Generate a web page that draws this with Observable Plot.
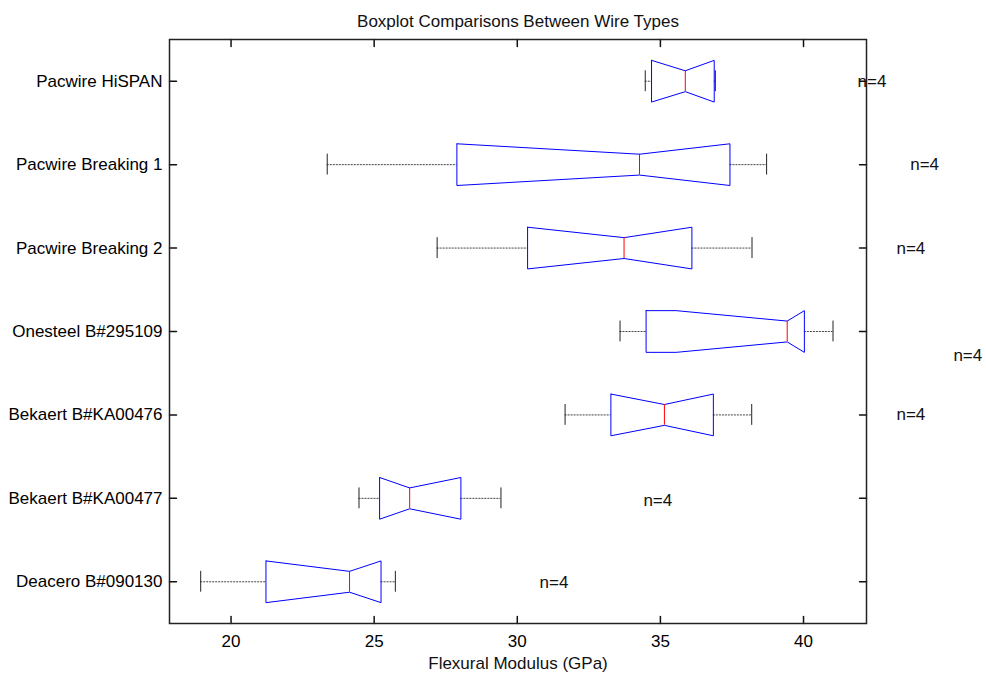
<!DOCTYPE html>
<html>
<head>
<meta charset="utf-8">
<script src="https://cdn.jsdelivr.net/npm/d3@7"></script>
<script src="https://cdn.jsdelivr.net/npm/@observablehq/plot@0.6"></script>
<style>
  html, body { margin: 0; padding: 0; background: #fff; }
  #chart svg { display: block; }
</style>
</head>
<body>
<div id="chart"></div>
<script>
// ---- Data ----
const groups = ["Pacwire HiSPAN", "Pacwire Breaking 1", "Pacwire Breaking 2", "Onesteel B#295109", "Bekaert B#KA00476", "Bekaert B#KA00477", "Deacero B#090130"];
const lowerWhisker = [34.47, 23.36, 27.20, 33.59, 31.67, 24.47, 18.94];
const q1 = [34.69, 27.89, 30.36, 34.50, 33.27, 25.19, 21.22];
const medians = [35.87, 34.27, 33.73, 39.43, 35.14, 26.24, 24.14];
const q3 = [36.88, 37.43, 36.10, 40.03, 36.85, 28.03, 25.24];
const upperWhisker = [36.92, 38.71, 38.20, 41.03, 38.19, 29.43, 25.74];
const notchLow = [34.69, 27.89, 30.36, 35.55, 33.27, 25.19, 21.22];
const notchHigh = [36.88, 37.43, 36.10, 40.03, 36.85, 28.03, 25.24];
const counts = [4, 4, 4, 4, 4, 4, 4];
const countLabelX = [42.39, 44.23, 43.75, 45.74, 43.75, 34.91, 31.28];
const countLabelY = [0, 1, 2, 3.29, 4, 5.03, 6.01];
const xTicks = [20, 25, 30, 35, 40];

const title = "Boxplot Comparisons Between Wire Types";
const xLabel = "Flexural Modulus (GPa)";

// ---- Derived tables ----
const idx = groups.map((_, i) => i);
const W = 0.25;     // box half-height (y units)
const CAP = 0.125;  // whisker cap half-height

const poly = [];
idx.forEach(i => {
  const pts = [
    [q1[i], i - W], [notchLow[i], i - W], [medians[i], i - W / 2], [notchHigh[i], i - W], [q3[i], i - W],
    [q3[i], i + W], [notchHigh[i], i + W], [medians[i], i + W / 2], [notchLow[i], i + W], [q1[i], i + W],
    [q1[i], i - W]
  ];
  pts.forEach(([x, y]) => poly.push({g: i, x, y}));
});

const whiskers = [];
idx.forEach(i => {
  whiskers.push({y: i, x1: lowerWhisker[i], x2: q1[i]});
  whiskers.push({y: i, x1: q3[i], x2: upperWhisker[i]});
});
const caps = [];
idx.forEach(i => {
  caps.push({x: lowerWhisker[i], y1: i - CAP, y2: i + CAP});
  caps.push({x: upperWhisker[i], y1: i - CAP, y2: i + CAP});
});
const medianRules = idx.map(i => ({x: medians[i], y1: i - W / 2, y2: i + W / 2}));
const countLabels = idx.map(i => ({x: countLabelX[i], y: countLabelY[i], t: "n=" + counts[i]}));

const tickShape = {draw(ctx, l) { ctx.moveTo(0, 0); ctx.lineTo(0, -l); }};
const TL = 7;
const FONT = "'Liberation Sans', Arial, Helvetica, sans-serif";

const chart = Plot.plot({
  width: 986,
  height: 675,
  marginLeft: 169,
  marginRight: 120,
  marginTop: 39,
  marginBottom: 52,
  style: {fontFamily: FONT, fontSize: "17px", color: "#000", background: "#fff"},
  x: {domain: [17.85, 42.2]},
  y: {domain: [-0.5, 6.5], reverse: true},
  marks: [
    Plot.axisX({ticks: xTicks, tickSize: 0, tickPadding: 11, label: null, tickFormat: d => String(d), fontSize: 17}),
    Plot.axisY({ticks: idx, tickSize: 0, tickPadding: 7, label: null, tickFormat: i => groups[i], fontSize: 17}),
    // inward ticks
    Plot.vector(xTicks, {x: d => d, frameAnchor: "bottom", rotate: 0, length: TL, anchor: "start", shape: tickShape, stroke: "#111"}),
    Plot.vector(xTicks, {x: d => d, frameAnchor: "top", rotate: 180, length: TL, anchor: "start", shape: tickShape, stroke: "#111"}),
    Plot.vector(idx, {y: d => d, frameAnchor: "left", rotate: 90, length: TL, anchor: "start", shape: tickShape, stroke: "#111"}),
    Plot.vector(idx, {y: d => d, frameAnchor: "right", rotate: -90, length: TL, anchor: "start", shape: tickShape, stroke: "#111"}),
    // whiskers
    Plot.ruleY(whiskers, {y: "y", x1: "x1", x2: "x2", stroke: "#444", strokeWidth: 1, strokeDasharray: "2,1"}),
    Plot.ruleX(caps, {x: "x", y1: "y1", y2: "y2", stroke: "#222", strokeWidth: 1}),
    // notched boxes
    Plot.line(poly, {x: "x", y: "y", z: "g", stroke: "#0000ff", strokeWidth: 1, curve: "linear"}),
    Plot.ruleX(medianRules, {x: "x", y1: "y1", y2: "y2", stroke: "#ff0000", strokeWidth: 1}),
    // count labels
    Plot.text(countLabels, {x: "x", y: "y", text: "t", fontSize: 17, fill: "#111", textAnchor: "middle", lineAnchor: "middle"}),
    // frame
    Plot.frame({stroke: "#222", strokeWidth: 1.5}),
    // titles
    Plot.text([title], {frameAnchor: "top", dy: -13, lineAnchor: "bottom", fontSize: 17, fill: "#111"}),
    Plot.text([xLabel], {frameAnchor: "bottom", dy: 33.5, lineAnchor: "top", fontSize: 17, fill: "#111"})
  ]
});
document.getElementById("chart").appendChild(chart);
</script>
</body>
</html>
